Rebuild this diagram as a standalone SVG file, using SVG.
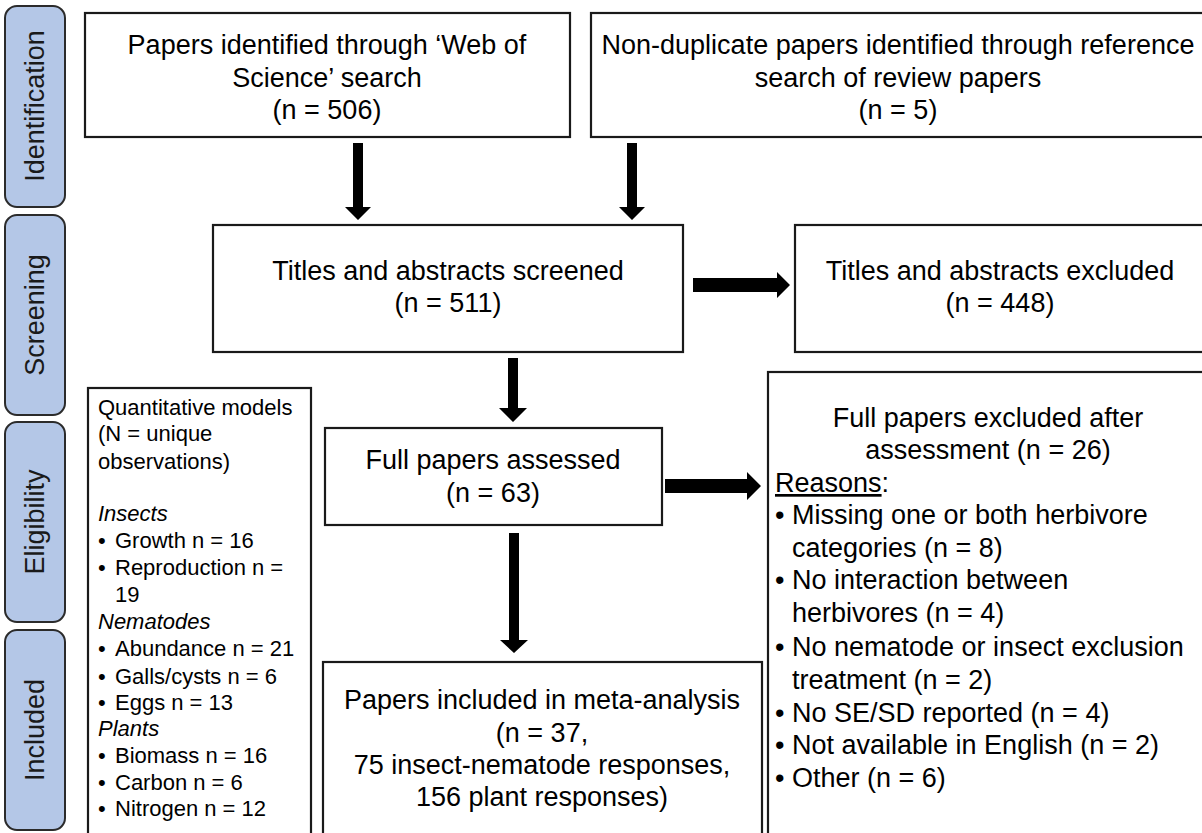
<svg xmlns="http://www.w3.org/2000/svg" width="1202" height="833" viewBox="0 0 1202 833">
<style>
.bar{fill:#B4C7E7;stroke:#2b2b2b;stroke-width:2}
.box{fill:#fff;stroke:#1a1a1a;stroke-width:2.2}
.lbl{font-family:"Liberation Sans",Arial,sans-serif;font-size:27px;fill:#1a1a1a;text-anchor:middle}
.t{font-family:"Liberation Sans",Arial,sans-serif;font-size:27px;fill:#000}
.c{text-anchor:middle}
.s{font-family:"Liberation Sans",Arial,sans-serif;font-size:22px;fill:#000}
.i{font-style:italic}
.arr{fill:#000}
</style>
<rect width="1202" height="833" fill="#fff"/>
<g id="stage-identification"><rect class="bar" x="5" y="6" width="60" height="201" rx="12"/><text class="lbl" transform="translate(44,106) rotate(-90)">Identification</text></g>
<g id="stage-screening"><rect class="bar" x="5" y="215" width="60" height="200" rx="12"/><text class="lbl" transform="translate(44,315) rotate(-90)">Screening</text></g>
<g id="stage-eligibility"><rect class="bar" x="5" y="422" width="60" height="200" rx="12"/><text class="lbl" transform="translate(44,522) rotate(-90)">Eligibility</text></g>
<g id="stage-included"><rect class="bar" x="5" y="630" width="60" height="200" rx="12"/><text class="lbl" transform="translate(44,730) rotate(-90)">Included</text></g>

<g id="node-wos"><rect class="box" x="85" y="13" width="485" height="124"/>
<text class="t c" x="327" y="54">Papers identified through ‘Web of</text>
<text class="t c" x="327" y="87">Science’ search</text>
<text class="t c" x="327" y="119">(n = 506)</text></g>

<g id="node-reference"><rect class="box" x="591" y="13" width="620" height="124"/>
<text class="t c" x="898" y="54">Non-duplicate papers identified through reference</text>
<text class="t c" x="898" y="87">search of review papers</text>
<text class="t c" x="898" y="119">(n = 5)</text></g>

<g id="node-screened"><rect class="box" x="213" y="225" width="470" height="127"/>
<text class="t c" x="448" y="280">Titles and abstracts screened</text>
<text class="t c" x="448" y="312">(n = 511)</text></g>

<g id="node-excluded-ta"><rect class="box" x="795" y="225" width="416" height="127"/>
<text class="t c" x="1000" y="280">Titles and abstracts excluded</text>
<text class="t c" x="1000" y="312">(n = 448)</text></g>

<g id="node-quantitative"><rect class="box" x="88" y="388" width="223" height="460"/>
<text class="s" x="98" y="415">Quantitative models</text>
<text class="s" x="98" y="441">(N = unique</text>
<text class="s" x="98" y="469">observations)</text>
<text class="s i" x="98" y="521">Insects</text>
<text class="s" x="98" y="548">•</text><text class="s" x="115" y="548">Growth n = 16</text>
<text class="s" x="98" y="575">•</text><text class="s" x="115" y="575">Reproduction n =</text>
<text class="s" x="115" y="602">19</text>
<text class="s i" x="98" y="629">Nematodes</text>
<text class="s" x="98" y="656">•</text><text class="s" x="115" y="656">Abundance n = 21</text>
<text class="s" x="98" y="684">•</text><text class="s" x="115" y="684">Galls/cysts n = 6</text>
<text class="s" x="98" y="710">•</text><text class="s" x="115" y="710">Eggs n = 13</text>
<text class="s i" x="98" y="736">Plants</text>
<text class="s" x="98" y="763">•</text><text class="s" x="115" y="763">Biomass n = 16</text>
<text class="s" x="98" y="790">•</text><text class="s" x="115" y="790">Carbon n = 6</text>
<text class="s" x="98" y="816">•</text><text class="s" x="115" y="816">Nitrogen n = 12</text></g>

<g id="node-full-assessed"><rect class="box" x="325" y="428" width="337" height="97"/>
<text class="t c" x="493" y="469">Full papers assessed</text>
<text class="t c" x="493" y="502">(n = 63)</text></g>

<g id="node-full-excluded"><rect class="box" x="768" y="372" width="443" height="476"/>
<text class="t c" x="988" y="427">Full papers excluded after</text>
<text class="t c" x="988" y="459">assessment (n = 26)</text>
<text class="t" x="775" y="492"><tspan text-decoration="underline">Reasons</tspan>:</text>
<text class="t" x="775" y="524">•</text><text class="t" x="792" y="524">Missing one or both herbivore</text>
<text class="t" x="792" y="557">categories (n = 8)</text>
<text class="t" x="775" y="589">•</text><text class="t" x="792" y="589">No interaction between</text>
<text class="t" x="792" y="622">herbivores (n = 4)</text>
<text class="t" x="775" y="656">•</text><text class="t" x="792" y="656">No nematode or insect exclusion</text>
<text class="t" x="792" y="689">treatment (n = 2)</text>
<text class="t" x="775" y="722">•</text><text class="t" x="792" y="722">No SE/SD reported (n = 4)</text>
<text class="t" x="775" y="754">•</text><text class="t" x="792" y="754">Not available in English (n = 2)</text>
<text class="t" x="775" y="787">•</text><text class="t" x="792" y="787">Other (n = 6)</text></g>

<g id="node-included"><rect class="box" x="323" y="662" width="439" height="186"/>
<text class="t c" x="542" y="709">Papers included in meta-analysis</text>
<text class="t c" x="542" y="742">(n = 37,</text>
<text class="t c" x="542" y="774">75 insect-nematode responses,</text>
<text class="t c" x="542" y="806">156 plant responses)</text></g>

<g id="connectors">
<polygon class="arr" points="353,143 363,143 363,207 371,207 358,220 345,207 353,207"/>
<polygon class="arr" points="627,143 637,143 637,207 645,207 632,220 619,207 627,207"/>
<polygon class="arr" points="508,358 518,358 518,408 527,408 513,422 499,408 508,408"/>
<polygon class="arr" points="509,533 519,533 519,640 528,640 514,653 500,640 509,640"/>
<polygon class="arr" points="693,278 777,278 777,272 790,285 777,298 777,292 693,292"/>
<polygon class="arr" points="665,479 747,479 747,472 761,486 747,500 747,493 665,493"/>
</g>
</svg>
